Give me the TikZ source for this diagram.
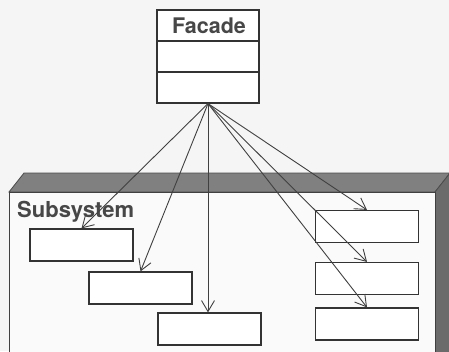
\documentclass[tikz,border=0pt]{standalone}
\usepackage{fontspec}
\setmainfont{TeX Gyre Heros}
\usetikzlibrary{arrows.meta}
\begin{document}
\begin{tikzpicture}[x=1pt,y=-1pt,
  cls/.style={draw=black!80, line width=1.2pt, fill=white, inner sep=0pt},
  part/.style={cls, minimum width=103pt, minimum height=32pt},
  assoc/.style={draw=black!75, line width=0.9pt, -{Straight Barb[length=11pt,width=13pt,line width=0.9pt]}},
  lbl/.style={font=\fontsize{22}{26}\selectfont\bfseries, text=black!72, inner sep=0pt},
]
\useasboundingbox (0,0) rectangle (449,351);
\clip (0,0) rectangle (449,351);
\fill[black!4] (0,0) rectangle (449,351);
% subsystem package (3D box)
\fill[black!50, draw=black!70, line width=0.8pt] (9,192) -- (24,173) -- (450,173) -- (435,192) -- cycle;
\fill[black!58, draw=black!70, line width=0.8pt] (435,192) -- (450,173) -- (460,173) -- (460,360) -- (435,360) -- cycle;
\filldraw[fill=black!2, draw=black!75, line width=1pt] (9,192) rectangle (435,360);
\node[lbl, anchor=west] (sublbl) at (17,212) {Subsystem};
% parts
\node[part] (b1) at (81.5,245) {};
\node[part] (b2) at (140.5,288) {};
\node[part] (b3) at (209.5,329) {};
\node[part] (b4) at (367,226.5) {};
\node[part] (b5) at (367,278.5) {};
\node[part] (b6) at (367,324) {};
% facade class
\node[cls, minimum width=102pt, minimum height=93pt] (facade) at (208,56.5) {};
\draw[black!80, line width=1.2pt] (facade.west |- 0,41) -- (facade.east |- 0,41);
\draw[black!80, line width=1.2pt] (facade.west |- 0,72) -- (facade.east |- 0,72);
\node[lbl, font=\fontsize{21.5}{25}\selectfont\bfseries] (ftitle) at (209,26) {Facade};
% associations
\draw[assoc] (facade.south) -- (b1.north);
\draw[assoc] (facade.south) -- (b2.north);
\draw[assoc] (facade.south) -- (facade.south |- b3.north);
\draw[assoc] (facade.south) -- (b4.north);
\draw[assoc] (facade.south) -- (b5.north);
\draw[assoc] (facade.south) -- (b6.north);
\end{tikzpicture}
\end{document}
